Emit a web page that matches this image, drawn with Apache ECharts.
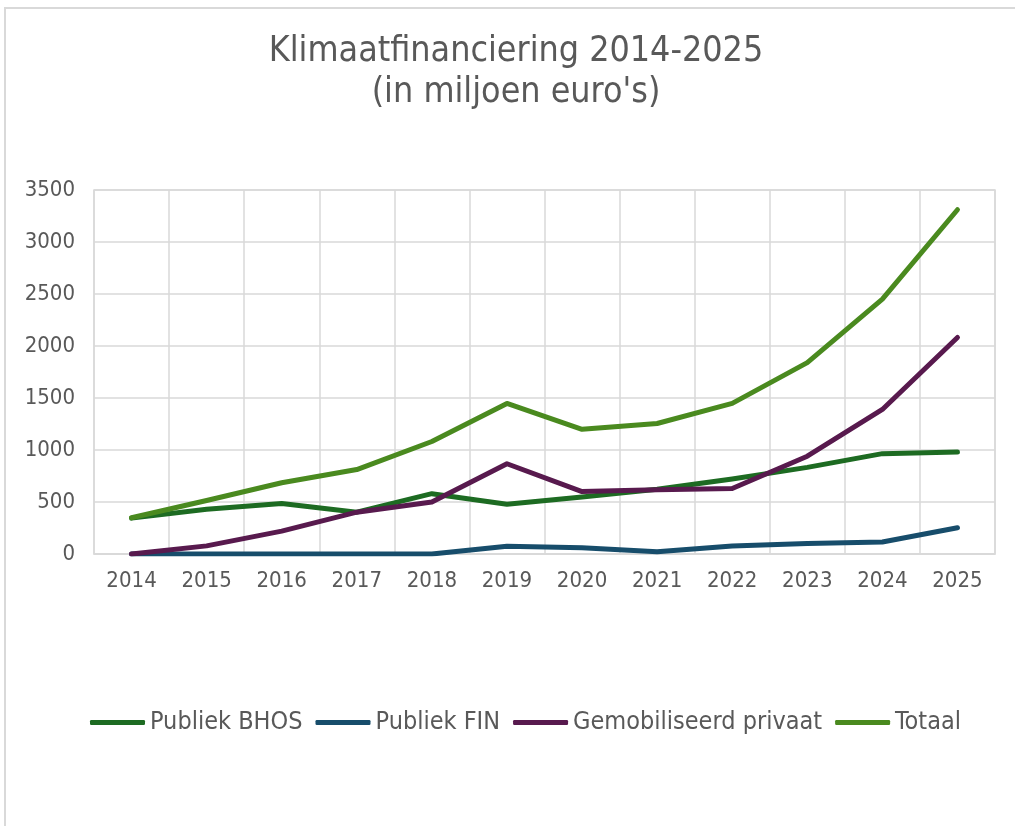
<!DOCTYPE html>
<html lang="nl">
<head>
  <meta charset="utf-8">
  <title>Klimaatfinanciering 2014-2025</title>
  <script src="https://cdn.jsdelivr.net/npm/echarts@6/dist/echarts.min.js"></script>
  <style>
    * { margin: 0; padding: 0; }
    html, body { width: 100%; height: 100%; overflow: hidden; background: #fff; }
    #frame {
      position: absolute; left: 4px; top: 7px; right: 0; bottom: 0;
      border-left: 2px solid #d9d9d9; border-top: 2px solid #d9d9d9;
    }
    #chart { position: absolute; left: 0; top: 0; width: 1015px; height: 826px; }
  </style>
</head>
<body>
  <div id="frame"></div>
  <div id="chart"></div>
  <script>
    // jaren
    const years = ['2014', '2015', '2016', '2017', '2018', '2019', '2020', '2021', '2022', '2023', '2024', '2025'];
    // waarden in miljoen euro
    const publiekBhos = [345, 430, 485, 402, 580, 478, 548, 622, 722, 833, 965, 980];
    const publiekFin  = [0, 0, 0, 0, 0, 75, 60, 22, 78, 100, 115, 252];
    const privaat     = [0, 78, 220, 402, 500, 868, 600, 618, 630, 940, 1390, 2082];
    const totaal      = [348, 515, 685, 812, 1082, 1448, 1199, 1255, 1448, 1840, 2450, 3310];

    const font = 'DejaVu Sans Condensed';
    const labelColor = '#595959';

    function lineSeries(name, data, color) {
      return {
        name: name,
        type: 'line',
        data: data,
        symbol: 'none',
        lineStyle: { width: 5, color: color, cap: 'round', join: 'round' },
        itemStyle: { color: color }
      };
    }

    var chart = echarts.init(document.getElementById('chart'), null, { renderer: 'canvas' });
    chart.setOption({
      animation: false,
      title: {
        text: 'Klimaatfinanciering 2014-2025\n(in miljoen euro\'s)',
        // iets rechts van het midden, zoals in het origineel
        left: 511,
        top: 26,
        textAlign: 'center',
        textStyle: {
          fontFamily: font, fontWeight: 'normal', fontSize: 35.5,
          color: labelColor, lineHeight: 41
        }
      },
      grid: {
        left: 94, right: 20, top: 190, bottom: 272,
        show: true, borderColor: '#d9d9d9', borderWidth: 1.5
      },
      legend: {
        bottom: 86,
        left: 85,
        icon: 'roundRect',
        itemWidth: 55,
        itemHeight: 5,
        itemGap: 13,
        textStyle: { fontFamily: font, fontSize: 25, color: labelColor },
        data: ['Publiek BHOS', 'Publiek FIN', 'Gemobiliseerd privaat', 'Totaal']
      },
      xAxis: {
        type: 'category',
        data: years,
        boundaryGap: true,
        axisLine: { show: true, lineStyle: { color: '#d9d9d9', width: 1.5 } },
        axisTick: { show: false },
        splitLine: { show: true, lineStyle: { color: '#d9d9d9', width: 1.5 } },
        axisLabel: { fontFamily: font, fontSize: 22, color: labelColor, margin: 16 }
      },
      yAxis: {
        type: 'value',
        min: 0,
        max: 3500,
        interval: 500,
        axisLine: { show: false },
        axisTick: { show: false },
        splitLine: { lineStyle: { color: '#d9d9d9', width: 1.5 } },
        axisLabel: {
          fontFamily: font, fontSize: 22, color: labelColor, margin: 19,
          formatter: function (v) { return String(v); }
        }
      },
      series: [
        lineSeries('Publiek BHOS', publiekBhos, '#1d6b22'),
        lineSeries('Publiek FIN', publiekFin, '#174d6b'),
        lineSeries('Gemobiliseerd privaat', privaat, '#581a4e'),
        lineSeries('Totaal', totaal, '#4a8a1f')
      ]
    });
  </script>
</body>
</html>
